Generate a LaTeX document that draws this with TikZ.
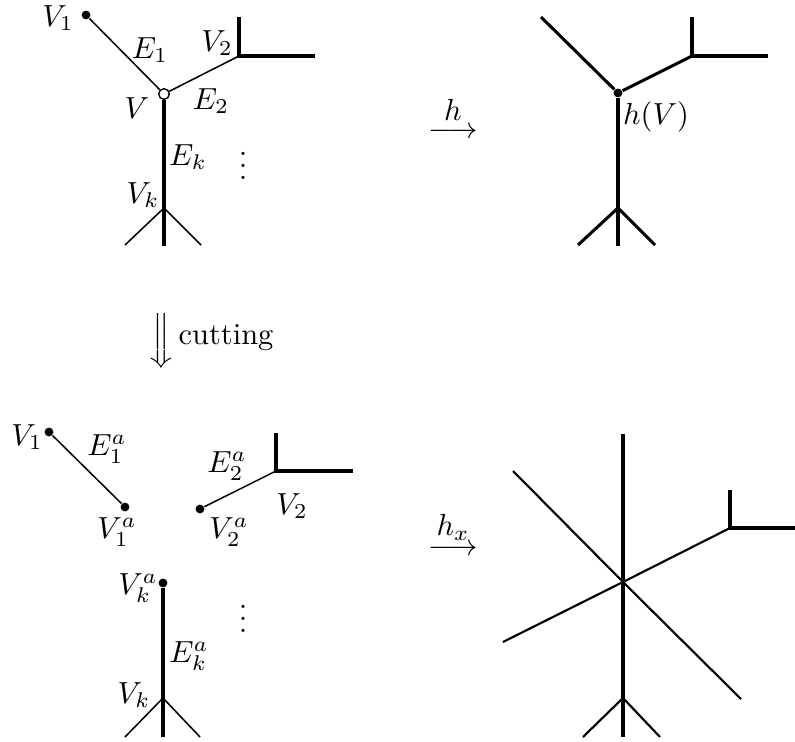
\documentclass[tikz,border=0pt]{standalone}
\usepackage{amsmath}
\usetikzlibrary{positioning}
\tikzset{
  thinedge/.style={line width=0.5pt},
  midedge/.style={line width=0.7pt},
  thickedge/.style={line width=1pt},
  dot/.style={circle,fill,inner sep=0pt,minimum size=2.9pt},
  hollowdot/.style={circle,draw,fill=white,line width=0.45pt,inner sep=0pt,minimum size=3.5pt},
  lbl/.style={inner sep=0pt}
}

\begin{document}
\begin{tikzpicture}[x=0.328pt,y=-0.328pt]
  \useasboundingbox (0,0) rectangle (795,742);

  % graph before cutting
  \node[dot] (a1) at (86,15) {};
  \node[hollowdot] (av) at (164,94) {};
  \coordinate (a2) at (239,56);
  \coordinate (a2up) at (239,17);
  \coordinate (a2rt) at (315,56);
  \coordinate (ak) at (164,208);
  \coordinate (akdn) at (164,246);
  \coordinate (aklt) at (125,245);
  \coordinate (akrt) at (201,245);
  \draw[thinedge] (a1) -- (av);
  \draw[thinedge] (av) -- (a2);
  \draw[thickedge] (a2up) -- (a2) -- (a2rt);
  \draw[thickedge] (av) -- (akdn);
  \draw[thinedge] (aklt) -- (ak) -- (akrt);
  \node[lbl] (la1) at (58,18) {$V_1$};
  \node[lbl] (le1) at (150,50) {$E_1$};
  \node[lbl] (la2) at (217,43) {$V_2$};
  \node[lbl] (lav) at (137,108) {$V$};
  \node[lbl] (le2) at (211,101) {$E_2$};
  \node[lbl] (lek) at (188,157) {$E_k$};
  \node[lbl] (ldots) at (243,157) {$\vdots$};
  \node[lbl] (lak) at (143,195) {$V_k$};

  % map h
  \node[anchor=base] (harr) at (453,138) {$\overset{\textstyle h}{\longrightarrow}$};

  % image under h
  \node[dot] (bv) at (618,93) {};
  \coordinate (b1) at (541,17);
  \coordinate (b2) at (692,56);
  \coordinate (b2up) at (692,17);
  \coordinate (b2rt) at (768,56);
  \coordinate (bk) at (618,208);
  \coordinate (bkdn) at (618,246);
  \coordinate (bklt) at (578,245);
  \coordinate (bkrt) at (655,245);
  \draw[thickedge] (b1) -- (bv) -- (b2);
  \draw[thickedge] (b2up) -- (b2) -- (b2rt);
  \draw[thickedge] (bv) -- (bkdn);
  \draw[thickedge] (bklt) -- (bk) -- (bkrt);
  \node[lbl] (lbv) at (656,117) {$h(V)$};

  % cutting step
  \node[lbl] (cutarr) at (161,341) {$\Big\Downarrow$};
  \node[lbl,anchor=base west] (cuttxt) at (178,344) {cutting};

  % graph after cutting
  \node[dot] (c1) at (49,432) {};
  \node[dot] (c1a) at (125,507) {};
  \node[dot] (c2a) at (200,509) {};
  \node[dot] (cka) at (163,583) {};
  \coordinate (c2) at (276,471);
  \coordinate (c2up) at (276,433);
  \coordinate (c2rt) at (353,471);
  \coordinate (ck) at (163,698);
  \coordinate (ckdn) at (163,737);
  \coordinate (cklt) at (125,737);
  \coordinate (ckrt) at (200,737);
  \draw[thinedge] (c1) -- (c1a);
  \draw[thinedge] (c2a) -- (c2);
  \draw[thickedge] (c2up) -- (c2) -- (c2rt);
  \draw[thickedge] (cka) -- (ckdn);
  \draw[thinedge] (cklt) -- (ck) -- (ckrt);
  \node[lbl] (lc1) at (27,437) {$V_1$};
  \node[lbl] (le1a) at (107,449) {$E_1^a$};
  \node[lbl] (lc1a) at (117,532) {$V_1^a$};
  \node[lbl] (le2a) at (227,466) {$E_2^a$};
  \node[lbl] (lc2) at (292,506) {$V_2$};
  \node[lbl] (lc2a) at (229,532) {$V_2^a$};
  \node[lbl] (lcka) at (138,588) {$V_k^a$};
  \node[lbl] (lcdots) at (243,610) {$\vdots$};
  \node[lbl] (leka) at (189,656) {$E_k^a$};
  \node[lbl] (lck) at (134,695) {$V_k$};

  % map h_x
  \node[anchor=base] (hxarr) at (453,555) {$\overset{\textstyle h_x}{\longrightarrow}$};

  % image under h_x
  \coordinate (d0) at (623,582);
  \coordinate (dtop) at (623,434);
  \coordinate (dbot) at (623,737);
  \coordinate (dul) at (513,471);
  \coordinate (dlr) at (741,699);
  \coordinate (dll) at (503,642);
  \coordinate (d2) at (730,528);
  \coordinate (d2up) at (730,490);
  \coordinate (d2rt) at (795,528);
  \coordinate (dk) at (623,698);
  \coordinate (dklt) at (583,737);
  \coordinate (dkrt) at (660,737);
  \draw[thickedge] (dtop) -- (dbot);
  \draw[midedge] (dul) -- (d0) -- (dlr);
  \draw[midedge] (dll) -- (d0) -- (d2);
  \draw[thickedge] (d2up) -- (d2) -- (d2rt);
  \draw[midedge] (dklt) -- (dk) -- (dkrt);
\end{tikzpicture}
\end{document}
